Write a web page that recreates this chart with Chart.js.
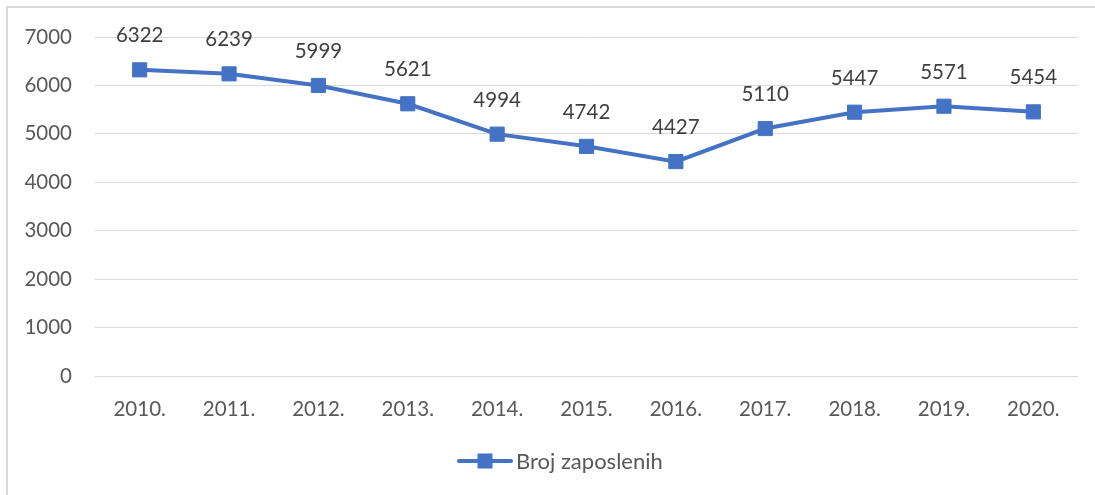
<!DOCTYPE html>
<html>
<head>
<meta charset="utf-8">
<script src="https://cdn.jsdelivr.net/npm/chart.js@4/dist/chart.umd.min.js"></script>
<style>
  html, body { margin: 0; padding: 0; background: #fff; }
  #wrap { position: relative; width: 1095px; height: 495px; overflow: hidden; }
  #frame { position: absolute; left: 6px; top: 6px; width: 1100px; height: 500px; border: 2px solid #d9d9d9; box-sizing: border-box; pointer-events: none; }
  canvas { position: absolute; left: 0; top: 0; }
</style>
</head>
<body>
<div id="wrap">
  <canvas id="c" width="1095" height="495"></canvas>
  <div id="frame"></div>
</div>
<script>
const categories = ["2010.", "2011.", "2012.", "2013.", "2014.", "2015.", "2016.", "2017.", "2018.", "2019.", "2020."];
const employees = [6322, 6239, 5999, 5621, 4994, 4742, 4427, 5110, 5447, 5571, 5454];
const seriesLabel = "Broj zaposlenih";
const yMin = 0, yMax = 7000, yStep = 1000;

const FONT = "Lato, 'Liberation Sans', sans-serif";
const BLUE = "#4472C4";

const dataLabels = {
  id: 'dataLabels',
  afterDatasetsDraw(chart) {
    const ctx = chart.ctx;
    const meta = chart.getDatasetMeta(0);
    ctx.save();
    ctx.font = "20.5px " + FONT;
    ctx.fillStyle = "#404040";
    ctx.textAlign = "center";
    ctx.textBaseline = "middle";
    meta.data.forEach((pt, i) => {
      ctx.fillText(String(chart.data.datasets[0].data[i]), pt.x, pt.y - 34);
    });
    ctx.restore();
  }
};

const customLegend = {
  id: 'customLegend',
  afterDraw(chart) {
    const ctx = chart.ctx;
    const ds = chart.data.datasets[0];
    ctx.save();
    ctx.font = "22px " + FONT;
    const lineW = 56, gap = 3;
    const x0 = 457;
    const y = 461;
    ctx.strokeStyle = ds.borderColor;
    ctx.lineWidth = 4;
    ctx.lineCap = "round";
    ctx.beginPath();
    ctx.moveTo(x0 + 2, y);
    ctx.lineTo(x0 + lineW - 2, y);
    ctx.stroke();
    ctx.fillStyle = ds.pointBackgroundColor;
    ctx.fillRect(x0 + lineW / 2 - 7.5, y - 7.5, 15, 15);
    ctx.fillStyle = "#595959";
    ctx.textAlign = "left";
    ctx.textBaseline = "middle";
    ctx.fillText(ds.label, x0 + lineW + gap, y + 1);
    ctx.restore();
  }
};

new Chart(document.getElementById('c'), {
  type: 'line',
  data: {
    labels: categories,
    datasets: [{
      label: seriesLabel,
      data: employees,
      borderColor: BLUE,
      backgroundColor: BLUE,
      pointBackgroundColor: BLUE,
      pointBorderColor: BLUE,
      borderWidth: 4,
      pointStyle: 'rect',
      pointRadius: 10,
      pointBorderWidth: 1,
      tension: 0,
      fill: false
    }]
  },
  options: {
    responsive: false,
    animation: false,
    devicePixelRatio: 1,
    layout: { padding: { left: 0, right: 17, top: 37, bottom: 69 } },
    plugins: {
      legend: { display: false },
      tooltip: { enabled: false }
    },
    scales: {
      x: {
        offset: true,
        grid: { display: false, drawTicks: false },
        border: { display: false },
        ticks: { color: "#595959", font: { family: FONT, size: 20.5 }, padding: 21, maxRotation: 0 },
        afterFit(s) { s.height = 50; }
      },
      y: {
        min: yMin, max: yMax,
        grid: { color: "#d9d9d9", lineWidth: 1, drawTicks: false },
        border: { display: false },
        ticks: { stepSize: yStep, color: "#595959", font: { family: FONT, size: 20.5 }, padding: 23,
                 callback: v => String(v) },
        afterFit(s) { s.width = 95; }
      }
    }
  },
  plugins: [dataLabels, customLegend]
});
</script>
</body>
</html>
